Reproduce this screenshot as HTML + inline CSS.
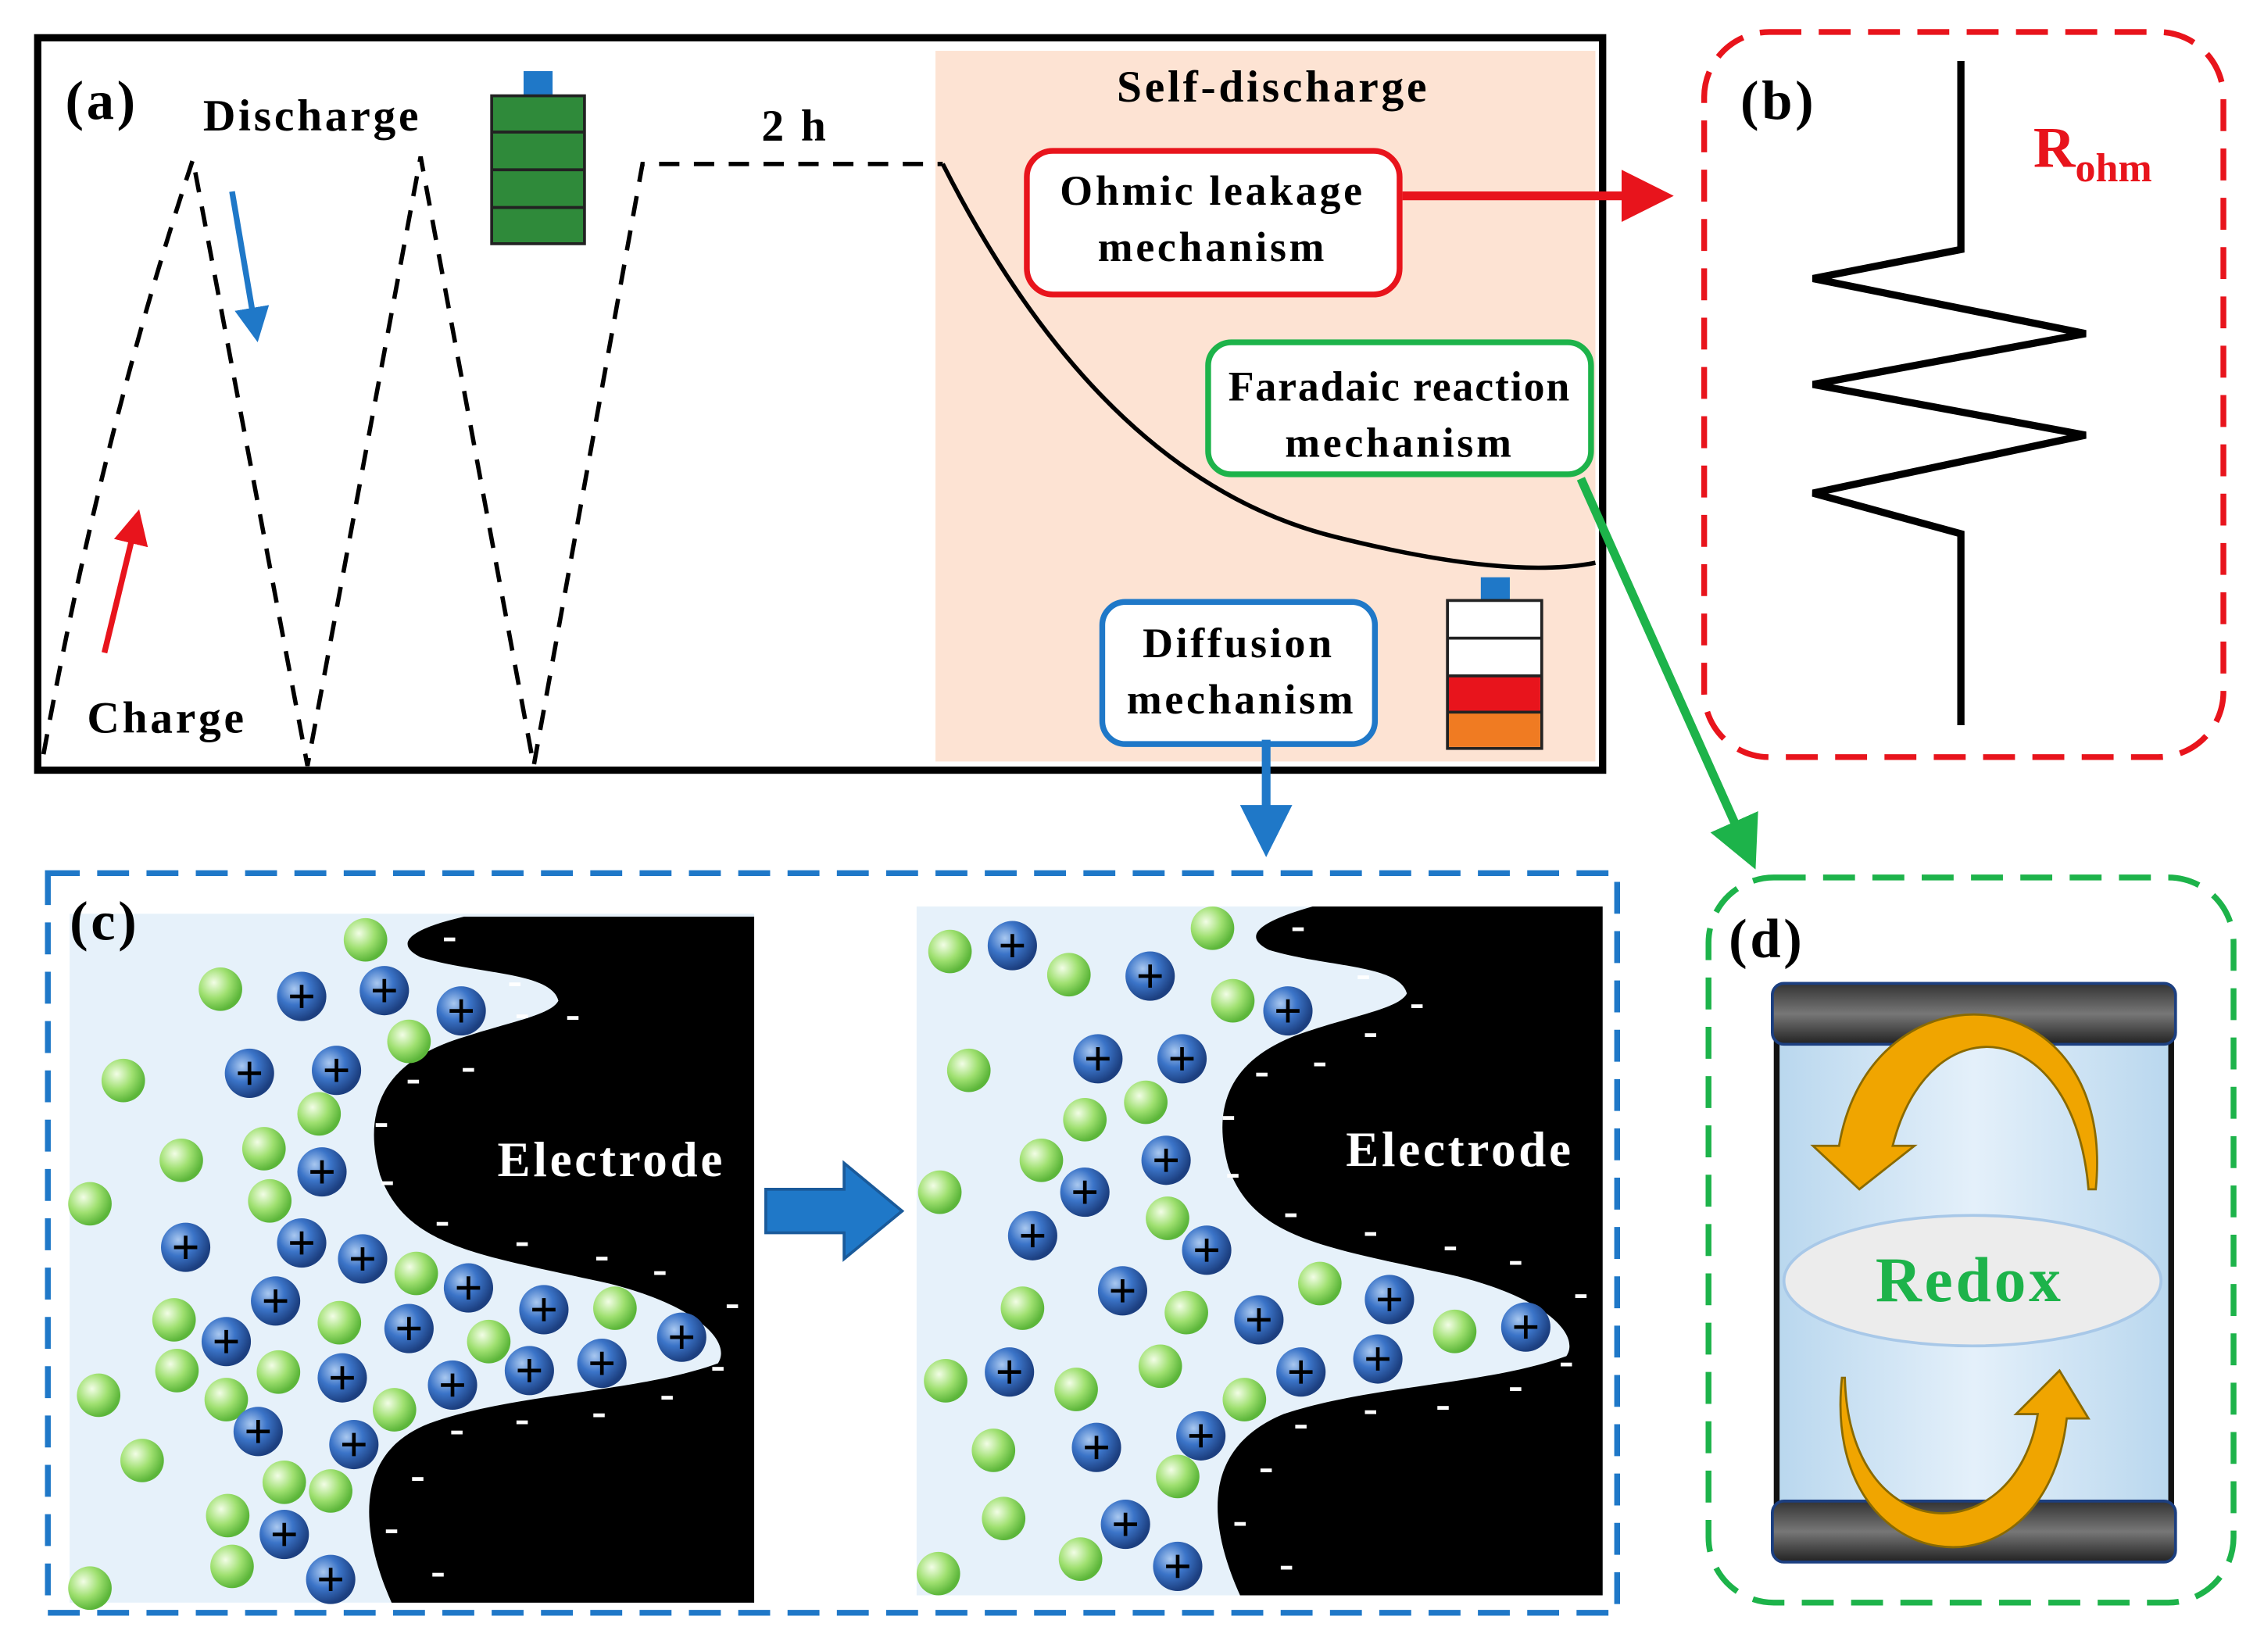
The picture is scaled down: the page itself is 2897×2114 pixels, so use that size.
<!DOCTYPE html>
<html><head><meta charset="utf-8">
<style>
html,body{margin:0;padding:0;background:#fff;}
svg{display:block;}
text{font-family:"Liberation Serif",serif;font-weight:bold;}
.ls{letter-spacing:2px;}
</style></head>
<body>
<svg width="2897" height="2114" viewBox="0 0 1561 1139" xmlns="http://www.w3.org/2000/svg">
<defs>
<radialGradient id="gb" cx="35%" cy="35%" r="65%"><stop offset="0" stop-color="#a9c8f0"/><stop offset="0.5" stop-color="#3b74c8"/><stop offset="1" stop-color="#1c3f80"/></radialGradient>
<radialGradient id="gg" cx="35%" cy="35%" r="65%"><stop offset="0" stop-color="#f2fde6"/><stop offset="0.55" stop-color="#9fe070"/><stop offset="1" stop-color="#5cb63a"/></radialGradient>
<linearGradient id="plate" x1="0" y1="0" x2="0" y2="1"><stop offset="0" stop-color="#333"/><stop offset="0.5" stop-color="#777"/><stop offset="1" stop-color="#222"/></linearGradient>
<linearGradient id="cyl" x1="0" y1="0" x2="1" y2="0"><stop offset="0" stop-color="#b9d7ee"/><stop offset="0.5" stop-color="#e4f0fa"/><stop offset="1" stop-color="#b9d7ee"/></linearGradient>
<marker id="ar" markerWidth="6" markerHeight="6" refX="5" refY="3" orient="auto" markerUnits="strokeWidth"><path d="M0,0 L6,3 L0,6z" fill="#e8141c"/></marker>
<marker id="ab" markerWidth="6" markerHeight="6" refX="5" refY="3" orient="auto" markerUnits="strokeWidth"><path d="M0,0 L6,3 L0,6z" fill="#1f78c8"/></marker>
<marker id="ag" markerWidth="6" markerHeight="6" refX="5" refY="3" orient="auto" markerUnits="strokeWidth"><path d="M0,0 L6,3 L0,6z" fill="#1db34a"/></marker>
<g id="pi"><circle r="17" fill="url(#gb)"/><path d="M-8,0H8M0,-8V8" stroke="#000" stroke-width="2.5"/></g>
<g id="gi"><circle r="15" fill="url(#gg)"/></g>
</defs>

<rect x="645" y="35" width="455" height="490" fill="#fde3d3"/>
<rect x="26" y="26" width="1079" height="505" fill="none" stroke="#000" stroke-width="5"/>
<path d="M30,520 Q70,300 133,110 L212,528 L290,108 L368,528 L443,113 L650,113" fill="none" stroke="#000" stroke-width="3" stroke-dasharray="14,10"/>
<path d="M650,113 Q760,330 920,370 Q1040,400 1100,388" fill="none" stroke="#000" stroke-width="3"/>
<line x1="72" y1="450" x2="95" y2="355" stroke="#e8141c" stroke-width="4" marker-end="url(#ar)"/>
<line x1="160" y1="132" x2="177" y2="232" stroke="#1f78c8" stroke-width="4" marker-end="url(#ab)"/>
<text x="45" y="82" font-size="38" class="ls">(a)</text>
<text x="140" y="90" font-size="31" class="ls">Discharge</text>
<text x="60" y="505" font-size="31" class="ls">Charge</text>
<text x="525" y="97" font-size="31" class="ls">2 h</text>
<text x="770" y="70" font-size="31" class="ls">Self-discharge</text>
<rect x="361" y="49" width="20" height="17" fill="#1f78c8"/>
<rect x="339" y="66" width="64" height="102" fill="#2f8a3a" stroke="#222" stroke-width="2"/>
<path d="M339,91H403M339,117H403M339,143H403" stroke="#222" stroke-width="2"/>
<rect x="1021" y="398" width="20" height="16" fill="#1f78c8"/>
<rect x="998" y="414" width="65" height="102" fill="#fff" stroke="#222" stroke-width="2"/>
<rect x="999" y="466" width="63" height="25" fill="#e8141c"/>
<rect x="999" y="491" width="63" height="24" fill="#f07b22"/>
<path d="M998,440H1063M998,466H1063M998,491H1063" stroke="#222" stroke-width="2"/>
<rect x="708" y="104" width="257" height="99" rx="18" fill="#fff" stroke="#e8141c" stroke-width="4"/>
<text x="836" y="141" font-size="29" text-anchor="middle" class="ls">Ohmic leakage</text>
<text x="836" y="180" font-size="29" text-anchor="middle" class="ls">mechanism</text>
<rect x="833" y="236" width="264" height="91" rx="16" fill="#fff" stroke="#1db34a" stroke-width="4"/>
<text x="965" y="276" font-size="29" text-anchor="middle" style="letter-spacing:1px">Faradaic reaction</text>
<text x="965" y="315" font-size="29" text-anchor="middle" class="ls">mechanism</text>
<rect x="760" y="415" width="188" height="98" rx="16" fill="#fff" stroke="#1f78c8" stroke-width="4"/>
<text x="854" y="453" font-size="29" text-anchor="middle" class="ls">Diffusion</text>
<text x="856" y="492" font-size="29" text-anchor="middle" class="ls">mechanism</text>
<line x1="967" y1="135" x2="1148" y2="135" stroke="#e8141c" stroke-width="6" marker-end="url(#ar)"/>
<line x1="1090" y1="330" x2="1208" y2="594" stroke="#1db34a" stroke-width="6" marker-end="url(#ag)"/>
<line x1="873" y1="510" x2="873" y2="585" stroke="#1f78c8" stroke-width="6" marker-end="url(#ab)"/>

<rect x="1175" y="22" width="358" height="500" rx="45" fill="none" stroke="#e8141c" stroke-width="4" stroke-dasharray="22,12"/>
<path d="M1352,42 V172 L1250,192 L1438,230 L1250,265 L1438,300 L1250,340 L1352,368 V500" fill="none" stroke="#000" stroke-width="5"/>
<text x="1200" y="82" font-size="38" class="ls">(b)</text>
<text x="1402" y="115" font-size="40" fill="#e8141c">R<tspan font-size="28" dy="10">ohm</tspan></text>

<rect x="48" y="630" width="472" height="475" fill="#e6f1fa"/>
<rect x="632" y="625" width="473" height="475" fill="#e6f1fa"/>
<rect x="33" y="602" width="1082" height="510" fill="none" stroke="#1f78c8" stroke-width="4" stroke-dasharray="22,12"/>
<path d="M320,632 H520 V1105 H270 C250,1060 240,1000 300,980 C360,960 440,960 495,940 C505,925 480,900 420,885 C330,865 280,860 262,810 C248,760 270,730 320,715 C350,705 380,700 385,690 C380,670 330,672 290,660 C270,650 285,640 320,632 Z" fill="#000"/>
<path d="M905,625 H1105 V1100 H855 C835,1055 825,1000 885,975 C945,955 1025,955 1080,935 C1090,920 1065,895 1005,880 C915,860 865,855 847,805 C833,755 855,725 905,710 C935,700 965,695 970,685 C965,665 915,667 875,655 C855,645 870,635 905,625 Z" fill="#000"/>
<text x="343" y="811" font-size="34" fill="#fff" class="ls">Electrode</text>
<text x="928" y="804" font-size="34" fill="#fff" class="ls">Electrode</text>
<g fill="#fff" font-size="30" font-family="Liberation Sans,sans-serif">
<text x="305" y="655">-</text><text x="350" y="686">-</text><text x="355" y="708">-</text><text x="390" y="709">-</text><text x="318" y="745">-</text><text x="280" y="753">-</text><text x="258" y="783">-</text><text x="262" y="823">-</text><text x="300" y="851">-</text><text x="355" y="865">-</text><text x="410" y="875">-</text><text x="450" y="885">-</text><text x="500" y="908">-</text><text x="490" y="951">-</text><text x="455" y="971">-</text><text x="408" y="983">-</text><text x="355" y="988">-</text><text x="310" y="995">-</text><text x="283" y="1027">-</text><text x="265" y="1063">-</text><text x="297" y="1093">-</text>
<text x="890" y="648">-</text><text x="935" y="681">-</text><text x="972" y="701">-</text><text x="940" y="721">-</text><text x="905" y="741">-</text><text x="865" y="748">-</text><text x="842" y="778">-</text><text x="845" y="818">-</text><text x="885" y="845">-</text><text x="940" y="858">-</text><text x="995" y="868">-</text><text x="1040" y="878">-</text><text x="1085" y="901">-</text><text x="1075" y="948">-</text><text x="1040" y="965">-</text><text x="990" y="978">-</text><text x="940" y="981">-</text><text x="892" y="991">-</text><text x="868" y="1021">-</text><text x="850" y="1058">-</text><text x="882" y="1088">-</text>
</g>
<g>
<use href="#gi" x="252" y="648"/><use href="#gi" x="152" y="682"/><use href="#gi" x="282" y="718"/><use href="#gi" x="85" y="745"/><use href="#gi" x="220" y="768"/><use href="#gi" x="125" y="800"/><use href="#gi" x="182" y="792"/><use href="#gi" x="62" y="830"/><use href="#gi" x="186" y="828"/><use href="#gi" x="287" y="878"/><use href="#gi" x="120" y="910"/><use href="#gi" x="234" y="912"/><use href="#gi" x="337" y="925"/><use href="#gi" x="424" y="902"/><use href="#gi" x="192" y="946"/><use href="#gi" x="122" y="945"/><use href="#gi" x="68" y="962"/><use href="#gi" x="156" y="965"/><use href="#gi" x="272" y="972"/><use href="#gi" x="98" y="1007"/><use href="#gi" x="196" y="1022"/><use href="#gi" x="228" y="1028"/><use href="#gi" x="157" y="1045"/><use href="#gi" x="160" y="1080"/><use href="#gi" x="62" y="1095"/>
<use href="#pi" x="208" y="687"/><use href="#pi" x="265" y="683"/><use href="#pi" x="318" y="697"/><use href="#pi" x="172" y="740"/><use href="#pi" x="232" y="738"/><use href="#pi" x="222" y="808"/><use href="#pi" x="128" y="860"/><use href="#pi" x="208" y="857"/><use href="#pi" x="250" y="868"/><use href="#pi" x="190" y="897"/><use href="#pi" x="323" y="888"/><use href="#pi" x="375" y="903"/><use href="#pi" x="156" y="925"/><use href="#pi" x="282" y="916"/><use href="#pi" x="470" y="922"/><use href="#pi" x="236" y="950"/><use href="#pi" x="312" y="955"/><use href="#pi" x="365" y="945"/><use href="#pi" x="415" y="940"/><use href="#pi" x="178" y="987"/><use href="#pi" x="244" y="996"/><use href="#pi" x="196" y="1058"/><use href="#pi" x="228" y="1089"/>
</g>
<g>
<use href="#gi" x="655" y="656"/><use href="#gi" x="836" y="640"/><use href="#gi" x="737" y="672"/><use href="#gi" x="850" y="690"/><use href="#gi" x="668" y="738"/><use href="#gi" x="790" y="760"/><use href="#gi" x="748" y="772"/><use href="#gi" x="718" y="800"/><use href="#gi" x="648" y="822"/><use href="#gi" x="805" y="840"/><use href="#gi" x="910" y="885"/><use href="#gi" x="705" y="902"/><use href="#gi" x="818" y="905"/><use href="#gi" x="1003" y="918"/><use href="#gi" x="800" y="942"/><use href="#gi" x="652" y="952"/><use href="#gi" x="742" y="958"/><use href="#gi" x="858" y="965"/><use href="#gi" x="685" y="1000"/><use href="#gi" x="812" y="1018"/><use href="#gi" x="692" y="1047"/><use href="#gi" x="745" y="1075"/><use href="#gi" x="647" y="1085"/>
<use href="#pi" x="698" y="652"/><use href="#pi" x="793" y="673"/><use href="#pi" x="888" y="697"/><use href="#pi" x="757" y="730"/><use href="#pi" x="815" y="730"/><use href="#pi" x="804" y="800"/><use href="#pi" x="748" y="822"/><use href="#pi" x="712" y="852"/><use href="#pi" x="832" y="862"/><use href="#pi" x="774" y="890"/><use href="#pi" x="958" y="896"/><use href="#pi" x="868" y="910"/><use href="#pi" x="1052" y="915"/><use href="#pi" x="950" y="937"/><use href="#pi" x="696" y="946"/><use href="#pi" x="897" y="946"/><use href="#pi" x="828" y="990"/><use href="#pi" x="756" y="998"/><use href="#pi" x="776" y="1051"/><use href="#pi" x="812" y="1080"/>
</g>
<path d="M528,820 H582 V802 L622,835 L582,868 V850 H528 Z" fill="#1f78c8" stroke="#1a5a9a" stroke-width="2"/>
<text x="48" y="648" font-size="38" class="ls">(c)</text>

<rect x="1178" y="605" width="362" height="500" rx="45" fill="none" stroke="#1db34a" stroke-width="4" stroke-dasharray="22,12"/>
<text x="1192" y="660" font-size="38" class="ls">(d)</text>
<rect x="1225" y="712" width="272" height="325" fill="url(#cyl)" stroke="#111" stroke-width="4"/>
<rect x="1222" y="678" width="278" height="42" rx="8" fill="url(#plate)" stroke="#1c3f80" stroke-width="2"/>
<rect x="1222" y="1035" width="278" height="42" rx="8" fill="url(#plate)" stroke="#1c3f80" stroke-width="2"/>
<ellipse cx="1360" cy="883" rx="130" ry="45" fill="#ececec" stroke="#a8c8e8" stroke-width="2"/>
<text x="1358" y="897" font-size="44" fill="#1db34a" text-anchor="middle" class="ls">Redox</text>
<path d="M1440,820 C1430,700 1330,690 1305,790 L1320,790 L1282,820 L1250,790 L1268,790 C1290,660 1460,670 1445,820 Z" fill="#f0a500" stroke="#8a6a00" stroke-width="1.5"/>
<path d="M1272,950 C1275,1070 1390,1070 1405,975 L1390,975 L1420,945 L1440,978 L1425,978 C1410,1110 1255,1090 1270,950 Z" fill="#f0a500" stroke="#8a6a00" stroke-width="1.5"/>
</svg>
</body></html>
